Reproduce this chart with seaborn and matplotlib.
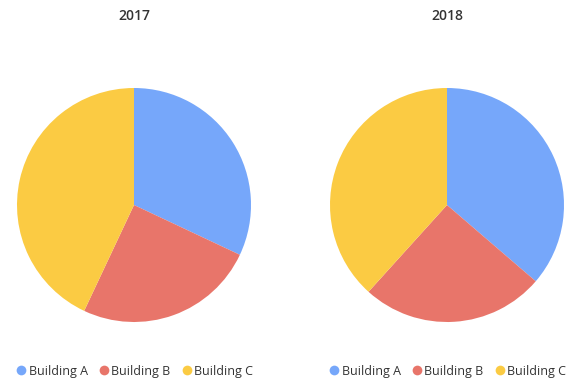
import matplotlib
matplotlib.use("Agg")
import matplotlib.pyplot as plt
import seaborn as sns
from matplotlib.lines import Line2D

years = ["2017", "2018"]
buildings = ["Building A", "Building B", "Building C"]
values_2017 = [32, 25, 43]
values_2018 = [36.3, 25.4, 38.3]
colors = ["#76A7FA", "#E8756A", "#FBCB43"]

sns.set_theme(style="white")
plt.rcParams['font.family'] = ['Open Sans', 'DejaVu Sans']

fig = plt.figure(figsize=(5.8, 3.87), dpi=100)
W, H = 580, 387
r = 117
centers = [(134, 205), (447, 205)]
data = [values_2017, values_2018]

for (cx, cy), vals, yr in zip(centers, data, years):
    ax = fig.add_axes([(cx - r) / W, (H - cy - r) / H, 2 * r / W, 2 * r / H])
    ax.pie(vals, colors=sns.color_palette(colors), startangle=90, counterclock=False,
           radius=1, wedgeprops=dict(linewidth=0))
    ax.set_xlim(-1, 1)
    ax.set_ylim(-1, 1)
    ax.set_aspect('equal')
    ax.axis('off')
    fig.text(cx / W, 1 - 16 / H, yr, ha='center', va='center', fontsize=10,
             fontweight='semibold', color='#333333')
    handles = [Line2D([0], [0], marker='o', linestyle='', markersize=7,
                      markerfacecolor=c, markeredgewidth=0) for c in colors]
    fig.legend(handles, buildings, loc='center', bbox_to_anchor=(cx / W, 1 - 371 / H),
               ncol=3, frameon=False, fontsize=9, handletextpad=0.1,
               columnspacing=0.8, handlelength=1.0, labelcolor='#333333')

fig.savefig("out.png", dpi=100, facecolor='white')
